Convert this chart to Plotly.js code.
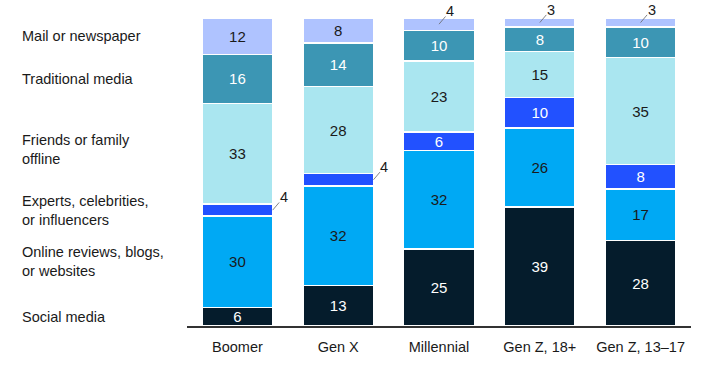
<!DOCTYPE html>
<html>
<head>
<meta charset="utf-8">
<script src="https://cdn.plot.ly/plotly-3.0.1.min.js"></script>
<style>html,body{margin:0;padding:0;background:#fff;}#chart{width:722px;height:372px;}</style>
</head>
<body>
<div id="chart"></div>
<script>
const categories = ['Boomer', 'Gen X', 'Millennial', 'Gen Z, 18+', 'Gen Z, 13–17'];
const seriesNames = ['Social media', 'Online reviews, blogs,<br>or websites', 'Experts, celebrities,<br>or influencers', 'Friends or family<br>offline', 'Traditional media', 'Mail or newspaper'];
const socialMedia = [6, 13, 25, 39, 28];
const onlineReviews = [30, 32, 32, 26, 17];
const experts = [4, 4, 6, 10, 8];
const friends = [33, 28, 23, 15, 35];
const traditional = [16, 14, 10, 8, 10];
const mail = [12, 8, 4, 3, 3];

const seriesValues = [socialMedia, onlineReviews, experts, friends, traditional, mail];
const colors = ['#051C2C', '#00A9F4', '#2251FF', '#AAE6F0', '#3C96B4', '#AFC3FF'];
const textColors = ['#ffffff', '#1a1a1a', '#ffffff', '#1a1a1a', '#ffffff', '#1a1a1a'];
const FONT = 'Liberation Sans, Arial, sans-serif';
const MIN_INSIDE = 5;

const traces = seriesValues.map((vals, s) => ({
  type: 'bar',
  x: categories,
  y: vals,
  name: seriesNames[s],
  marker: {color: colors[s], line: {color: '#ffffff', width: 1.5}},
  text: vals.map(v => v >= MIN_INSIDE ? String(v) : ''),
  textposition: 'inside',
  insidetextanchor: 'middle',
  textangle: 0,
  constraintext: 'none',
  insidetextfont: {family: FONT, size: 15, color: textColors[s]},
  hoverinfo: 'skip',
  showlegend: false
}));

// totals and normalized cumulative positions
const totals = categories.map((c, i) => seriesValues.reduce((a, arr) => a + arr[i], 0));
function midPct(s, i) {
  let below = 0;
  for (let k = 0; k < s; k++) below += seriesValues[k][i];
  return (below + seriesValues[s][i] / 2) / totals[i] * 100;
}

const annotations = [];
// outside labels for small segments
seriesValues.forEach((vals, s) => {
  vals.forEach((v, i) => {
    if (v >= MIN_INSIDE) return;
    const top = s === seriesValues.length - 1;
    annotations.push({
      xref: 'x', yref: 'y',
      x: top ? i : i + 0.35,
      y: midPct(s, i),
      text: String(v),
      showarrow: true, arrowhead: 0, arrowwidth: 0.8, arrowcolor: '#666',
      standoff: 0, borderpad: 0,
      ax: 11, ay: top ? -13 : -13,
      font: {family: FONT, size: 14.5, color: '#1a1a1a'}
    });
  });
});
// left-side category labels aligned with first bar's segments
const labelShift = [0, 0, 0, 4, 0, 0];
seriesNames.forEach((name, s) => {
  annotations.push({
    xref: 'paper', yref: 'y',
    x: -167 / 504, xanchor: 'left',
    y: midPct(s, 0), yanchor: 'middle', yshift: labelShift[s],
    text: name, align: 'left', showarrow: false,
    font: {family: FONT, size: 14.5, color: '#1a1a1a'}
  });
});

const layout = {
  width: 722, height: 372,
  margin: {l: 187, r: 31, t: 18, b: 46},
  paper_bgcolor: '#ffffff', plot_bgcolor: '#ffffff',
  barmode: 'stack', barnorm: 'percent', bargap: 0.3,
  font: {family: FONT, size: 14.5, color: '#1a1a1a'},
  xaxis: {
    showline: true, linecolor: '#333333', linewidth: 1.5,
    showgrid: false, zeroline: false, ticks: '',
    ticklabelstandoff: 7,
    tickfont: {family: FONT, size: 14.5, color: '#1a1a1a'}
  },
  yaxis: {range: [0, 100], visible: false, showgrid: false, zeroline: false, fixedrange: true},
  annotations: annotations,
  uniformtext: {mode: false}
};

Plotly.newPlot('chart', traces, layout, {displayModeBar: false, staticPlot: true});
</script>
</body>
</html>
